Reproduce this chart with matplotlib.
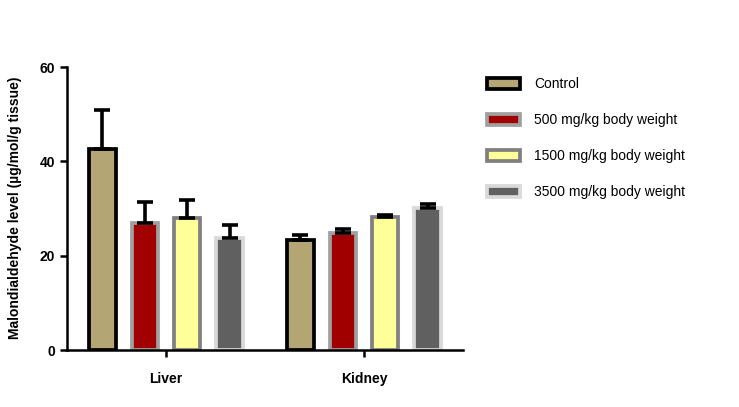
import numpy as np
import matplotlib
matplotlib.use("Agg")
import matplotlib.pyplot as plt
from matplotlib.patches import Patch

# data
organs = ["Liver", "Kidney"]
groups = ["Control", "500 mg/kg body weight", "1500 mg/kg body weight", "3500 mg/kg body weight"]
control = [42.6, 23.3]
dose500 = [26.9, 24.8]
dose1500 = [27.9, 28.2]
dose3500 = [23.7, 30.1]
err_control = [8.3, 1.0]
err_500 = [4.4, 0.8]
err_1500 = [4.0, 0.5]
err_3500 = [2.8, 0.8]

fills = ["#b3a674", "#a00000", "#ffff99", "#606060"]
edges = ["#000000", "#a0a0a0", "#808080", "#d9d9d9"]

plt.rcParams['font.family'] = ['Liberation Sans', 'DejaVu Sans']

fig = plt.figure(figsize=(7.39, 4.07), dpi=100)
ax = fig.add_axes([0.0907, 0.140, 0.5358, 0.695])

x = np.arange(len(organs))
step = 0.214
w = 0.134
series = [control, dose500, dose1500, dose3500]
errs = [err_control, err_500, err_1500, err_3500]
for i in range(4):
    pos = x + (i - 1.5) * step
    ax.bar(pos, series[i], width=w, color=fills[i], edgecolor=edges[i],
           linewidth=2.7, label=groups[i], zorder=2)
    ax.errorbar(pos, series[i], yerr=[np.zeros(2), errs[i]], fmt='none',
                ecolor='black', elinewidth=2.6, capsize=6, capthick=2.6, zorder=3)

ax.set_xlim(-0.5, 1.5)
ax.set_ylim(0, 60)
ax.set_yticks([0, 20, 40, 60])
ax.set_xticks(x)
ax.set_xticklabels(organs, fontsize=10, fontweight='bold')
for t in ax.get_yticklabels():
    t.set_fontsize(10)
    t.set_fontweight('bold')
for s in ['top', 'right']:
    ax.spines[s].set_visible(False)
for s in ['left', 'bottom']:
    ax.spines[s].set_linewidth(1.8)
ax.tick_params(width=1.8, length=5)
ax.tick_params(axis='x', pad=11)

fig.text(0.02, 0.49, "Malondialdehyde level (\u00b5g/mol/g tissue)", rotation=90,
         ha='center', va='center', fontsize=10, fontweight='bold')

handles = [Patch(facecolor=fills[i], edgecolor=edges[i], linewidth=2.7) for i in range(4)]
fig.legend(handles, groups, loc='upper left', bbox_to_anchor=(0.659, 0.81),
           frameon=False, fontsize=10, handlelength=2.4, handleheight=0.8,
           handletextpad=1.0, labelspacing=1.58, borderpad=0, borderaxespad=0)

fig.savefig("out.png", dpi=100)
